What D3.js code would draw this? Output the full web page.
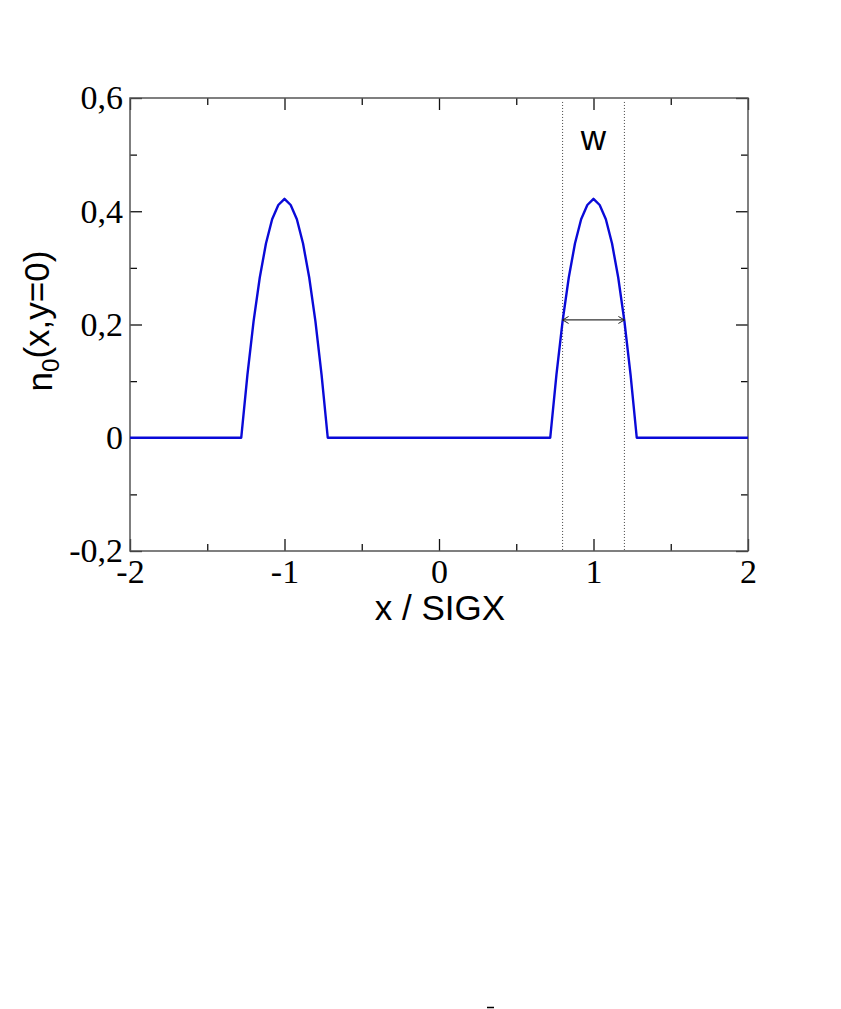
<!DOCTYPE html>
<html>
<head>
<meta charset="utf-8">
<script src="https://cdn.jsdelivr.net/npm/d3@7"></script>
<style>
  html, body { margin: 0; padding: 0; background: #fff; }
  svg { display: block; }
</style>
</head>
<body>
<svg id="chart" width="841" height="1009"></svg>
<script>
// ---- data ----
const xValues = [-2, -1.28, -1.24, -1.20, -1.16, -1.12, -1.08, -1.04, -1.00, -0.96, -0.92, -0.88, -0.84, -0.80, -0.76, -0.72,
                 0.72, 0.76, 0.80, 0.84, 0.88, 0.92, 0.96, 1.00, 1.04, 1.08, 1.12, 1.16, 1.20, 1.24, 1.28, 2];
const nValues = [0, 0, 0.111, 0.206, 0.283, 0.343, 0.386, 0.411, 0.422, 0.411, 0.386, 0.343, 0.283, 0.206, 0.111, 0,
                 0, 0.111, 0.206, 0.283, 0.343, 0.386, 0.411, 0.422, 0.411, 0.386, 0.343, 0.283, 0.206, 0.111, 0, 0];
const xMajorTicks = [-2, -1, 0, 1, 2];
const xMinorTicks = [-1.5, -0.5, 0.5, 1.5];
const yMajorTicks = [-0.2, 0, 0.2, 0.4, 0.6];
const yMinorTicks = [-0.1, 0.1, 0.3, 0.5];
const widthMarkers = [0.8, 1.2];      // dotted guides
const widthMarkerTop = 0.593;
const widthArrowY = 0.208;
const widthLabel = "w";
const widthLabelPos = [1.0, 0.51];
const xLabel = "x / SIGX";
const yLabelMain = "n";
const yLabelSub = "0";
const yLabelRest = "(x,y=0)";

// ---- layout ----
const L = 130, R = 748, T = 98, B = 551;
const svg = d3.select("#chart");
const x = d3.scaleLinear().domain([-2, 2]).range([L, R]);
const y = d3.scaleLinear().domain([-0.2, 0.6]).range([B, T]);
const fmt = d => String(+(+d).toFixed(1)).replace(".", ",");   // plain hyphen minus, comma decimal

const serif = "'Liberation Serif', 'Times New Roman', serif";
const sans = "'Liberation Sans', Arial, Helvetica, sans-serif";

// axes: ticks inside on all 4 sides
function styleAxis(g) {
  g.select(".domain").remove();
  g.selectAll(".tick line").attr("stroke", "#111").attr("stroke-width", 1.3);
  g.selectAll("text").attr("fill", "#000").style("font-family", serif).style("font-size", "34px");
}
// bottom
svg.append("g").attr("transform", `translate(0,${B})`)
  .call(d3.axisBottom(x).tickValues(xMajorTicks).tickSize(-12).tickPadding(8).tickFormat(fmt)).call(styleAxis);
svg.append("g").attr("transform", `translate(0,${B})`)
  .call(d3.axisBottom(x).tickValues(xMinorTicks).tickSize(-7).tickFormat("")).call(styleAxis);
// top
svg.append("g").attr("transform", `translate(0,${T})`)
  .call(d3.axisTop(x).tickValues(xMajorTicks).tickSize(-12).tickFormat("")).call(styleAxis);
svg.append("g").attr("transform", `translate(0,${T})`)
  .call(d3.axisTop(x).tickValues(xMinorTicks).tickSize(-7).tickFormat("")).call(styleAxis);
// left
svg.append("g").attr("transform", `translate(${L},0)`)
  .call(d3.axisLeft(y).tickValues(yMajorTicks).tickSize(-12).tickPadding(7).tickFormat(fmt)).call(styleAxis);
svg.append("g").attr("transform", `translate(${L},0)`)
  .call(d3.axisLeft(y).tickValues(yMinorTicks).tickSize(-7).tickFormat("")).call(styleAxis);
// right
svg.append("g").attr("transform", `translate(${R},0)`)
  .call(d3.axisRight(y).tickValues(yMajorTicks).tickSize(-12).tickFormat("")).call(styleAxis);
svg.append("g").attr("transform", `translate(${R},0)`)
  .call(d3.axisRight(y).tickValues(yMinorTicks).tickSize(-7).tickFormat("")).call(styleAxis);

// frame
svg.append("rect").attr("x", L).attr("y", T).attr("width", R - L).attr("height", B - T)
  .attr("fill", "none").attr("stroke", "#555").attr("stroke-width", 1.5);

// dotted guides
svg.selectAll("line.guide").data(widthMarkers).enter().append("line")
  .attr("class", "guide")
  .attr("x1", d => x(d)).attr("x2", d => x(d))
  .attr("y1", y(widthMarkerTop)).attr("y2", y(-0.2))
  .attr("stroke", "#444").attr("stroke-width", 1).attr("stroke-dasharray", "1,2");

// curve
const pts = xValues.map((v, i) => [v, nValues[i]]);
svg.append("path").datum(pts)
  .attr("d", d3.line().x(d => x(d[0])).y(d => y(d[1])))
  .attr("fill", "none").attr("stroke", "#0a0ad8").attr("stroke-width", 2.4)
  .attr("stroke-linejoin", "round");

// arrow
const defs = svg.append("defs");
defs.append("marker").attr("id", "arr").attr("viewBox", "-8 -5 10 10")
  .attr("refX", 0).attr("refY", 0).attr("markerWidth", 10).attr("markerHeight", 10)
  .attr("markerUnits", "userSpaceOnUse").attr("orient", "auto-start-reverse")
  .append("path").attr("d", "M-6,-3.5 L0,0 L-6,3.5").attr("fill", "none")
  .attr("stroke", "#222").attr("stroke-width", 1);
svg.append("line")
  .attr("x1", x(widthMarkers[0])).attr("x2", x(widthMarkers[1]))
  .attr("y1", y(widthArrowY)).attr("y2", y(widthArrowY))
  .attr("stroke", "#333").attr("stroke-width", 1.2)
  .attr("marker-start", "url(#arr)").attr("marker-end", "url(#arr)");

// w label
svg.append("text").attr("x", x(widthLabelPos[0])).attr("y", 150)
  .attr("text-anchor", "middle").style("font-family", sans).style("font-size", "35px")
  .text(widthLabel);

// axis labels
svg.append("text").attr("x", 440).attr("y", 620)
  .attr("text-anchor", "middle").style("font-family", sans).style("font-size", "35px")
  .text(xLabel);
const yl = svg.append("text").attr("transform", "translate(52,321) rotate(-90)")
  .attr("text-anchor", "middle").style("font-family", sans).style("font-size", "35px");
yl.append("tspan").text(yLabelMain);
yl.append("tspan").attr("dy", "0.28em").style("font-size", "24px").text(yLabelSub);
yl.append("tspan").attr("dy", "-0.28em").text(yLabelRest);

// small stray dash at the page bottom
svg.append("line").attr("x1", 487).attr("x2", 494).attr("y1", 1007.5).attr("y2", 1007.5)
  .attr("stroke", "#000").attr("stroke-width", 1.5);
</script>
</body>
</html>
